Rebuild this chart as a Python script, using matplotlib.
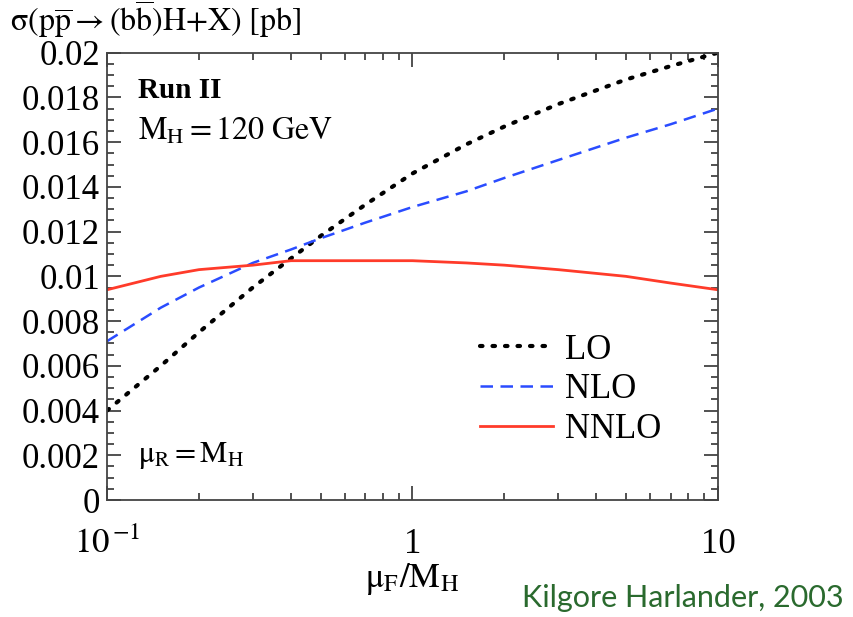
import numpy as np
import matplotlib.pyplot as plt
from matplotlib.ticker import FixedLocator, FixedFormatter, LogLocator, NullFormatter

plt.rcParams['font.family'] = ['Liberation Serif', 'DejaVu Serif']
plt.rcParams['mathtext.fontset'] = 'stix'

# valores
mu_f = [0.1, 0.15, 0.2, 0.3, 0.4, 0.5, 0.7, 1.0, 1.5, 2.0, 3.0, 5.0, 7.0, 10.0]
sigma_lo = [0.0040, 0.0060, 0.0075, 0.0095, 0.0108, 0.0118, 0.0132, 0.0146,
            0.0159, 0.0167, 0.0177, 0.0188, 0.0194, 0.0200]
sigma_nlo = [0.0071, 0.0086, 0.0095, 0.0106, 0.0112, 0.0117, 0.0124, 0.0131,
             0.0138, 0.0144, 0.0152, 0.0162, 0.0168, 0.0175]
sigma_nnlo = [0.0094, 0.0100, 0.0103, 0.0105, 0.0107, 0.0107, 0.0107, 0.0107,
              0.0106, 0.0105, 0.0103, 0.0100, 0.0097, 0.0094]
series_labels = ['LO', 'NLO', 'NNLO']

y_ticks = [0, 0.002, 0.004, 0.006, 0.008, 0.01, 0.012, 0.014, 0.016, 0.018, 0.02]
y_ticklabels = ['0', '0.002', '0.004', '0.006', '0.008', '0.01', '0.012',
                '0.014', '0.016', '0.018', '0.02']
x_ticks = [0.1, 1, 10]
x_ticklabels = [r'$10^{\,\mathrm{-1}}$', '1', '10']

fig = plt.figure(figsize=(8.54, 6.17), dpi=100)
ax = fig.add_axes([0.1253, 0.1896, 0.7154, 0.725])

ax.plot(mu_f, sigma_lo, color='black', linestyle=(0, (0.6, 2.4)), lw=3.0,
        dash_capstyle='round', label=series_labels[0])
ax.plot(mu_f, sigma_nlo, color='#2a4cff', linestyle=(0, (5, 3)), lw=1.8,
        label=series_labels[1])
ax.plot(mu_f, sigma_nnlo, color='#ff3b2a', linestyle='-', lw=2.0,
        label=series_labels[2])

ax.set_xscale('log')
ax.set_xlim(0.1, 10)
ax.set_ylim(0, 0.02)

ax.xaxis.set_major_locator(FixedLocator(x_ticks))
ax.xaxis.set_major_formatter(FixedFormatter(x_ticklabels))
ax.xaxis.set_minor_locator(LogLocator(base=10, subs=np.arange(2, 10)))
ax.xaxis.set_minor_formatter(NullFormatter())
ax.yaxis.set_major_locator(FixedLocator(y_ticks))
ax.yaxis.set_major_formatter(FixedFormatter(y_ticklabels))
ax.yaxis.set_minor_locator(FixedLocator(np.arange(0, 0.0201, 0.0005)))

ax.tick_params(which='both', direction='in', top=True, right=True,
               color='#333333', width=1.2)
ax.tick_params(which='major', length=10, labelsize=25)
ax.tick_params(which='minor', length=5)
ax.tick_params(axis='x', pad=20)
ax.tick_params(axis='y', pad=5)
for s in ax.spines.values():
    s.set_color('#444444')
    s.set_linewidth(1.3)

ax.set_xlabel(r'$\mathrm{\mu_F/M_H}$', fontsize=25, labelpad=0)

fig.text(0.012, 0.968,
         r'$\mathrm{\sigma(p\overline{p}}\rightarrow\mathrm{(b\overline{b})H{+}X)\ [pb]}$',
         fontsize=23, ha='left', va='center')

ax.text(0.05, 0.915, 'Run II', transform=ax.transAxes, fontsize=21,
        fontweight='bold', ha='left', va='center')
ax.text(0.05, 0.825, r'$\mathrm{M_H{=}120\ GeV}$', transform=ax.transAxes,
        fontsize=23, ha='left', va='center')
ax.text(0.05, 0.10, r'$\mathrm{\mu_R{=}M_H}$', transform=ax.transAxes,
        fontsize=22, ha='left', va='center')

ax.legend(loc='lower left', bbox_to_anchor=(0.56, 0.05), frameon=False,
          fontsize=25, handlelength=2.1, handletextpad=0.35, labelspacing=0.2)

fig.text(0.988, 0.008, 'Kilgore Harlander, 2003', color='#2a6a2e',
         fontsize=22, family=['Lato', 'DejaVu Sans'],
         ha='right', va='bottom')

fig.savefig('out.png', dpi=100)
